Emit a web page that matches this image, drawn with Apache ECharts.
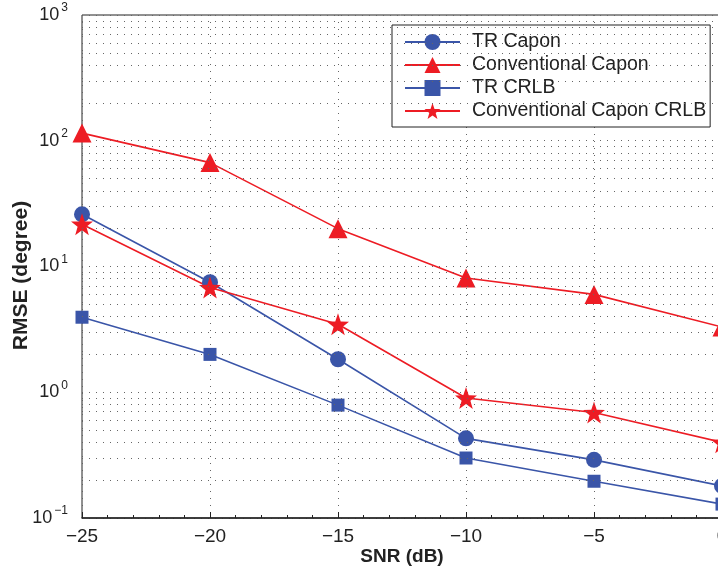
<!DOCTYPE html>
<html><head><meta charset="utf-8">
<script src="https://cdn.jsdelivr.net/npm/echarts@6/dist/echarts.min.js"></script>
<style>html,body{margin:0;padding:0;background:#fff}#c{width:718px;height:577px}</style>
</head><body><div id="c"></div>
<script>
const snr = [-25, -20, -15, -10, -5, 0];
const trCapon = [26, 7.5, 1.83, 0.43, 0.29, 0.18];
const convCapon = [115, 67, 20, 8.1, 6.0, 3.3];
const trCRLB = [3.95, 2.0, 0.79, 0.3, 0.196, 0.129];
const convCRLB = [21.7, 6.8, 3.47, 0.9, 0.69, 0.40];
const minorGridValues = [];
[0.1, 1, 10, 100].forEach(d => { for (let k = 2; k <= 9; k++) minorGridValues.push(+(d * k).toPrecision(3)); });

const BLUE = '#3a55a8', RED = '#ed1c24', FONT = 'Liberation Sans, Arial, Helvetica, sans-serif';
const pair = a => snr.map((x, i) => [x, a[i]]);
const dotted = { color: '#666', width: 1, type: [1, 6] };
const mk = (name, data, color, symbol, size) => ({
  name, type: 'line', data: pair(data), symbol, symbolSize: size,
  lineStyle: { color, width: 1.6 }, itemStyle: { color }, z: 3
});
const chart = echarts.init(document.getElementById('c'));
chart.setOption({
  animation: false,
  textStyle: { fontFamily: FONT },
  grid: { left: 82, top: 15, width: 640, height: 503, show: true, borderColor: '#222', borderWidth: 1, outerBoundsMode: 'none', containLabel: false },
  xAxis: {
    type: 'value', min: -25, max: 0, interval: 5,
    name: 'SNR (dB)', nameLocation: 'middle', nameGap: 29, nameMoveOverlap: false,
    nameTextStyle: { fontSize: 19, fontWeight: 'bold', color: '#222' },
    axisLine: { lineStyle: { color: '#222', width: 1.5 } },
    axisTick: { inside: true, length: 6, lineStyle: { color: '#222' } },
    minorTick: { show: true, splitNumber: 5, length: 3, lineStyle: { color: '#222' } },
    axisLabel: { fontSize: 19, color: '#222', margin: 9, formatter: v => String(v).replace('-', '\u2212') },
    splitLine: { show: true, lineStyle: dotted }
  },
  yAxis: {
    type: 'log', min: 0.1, max: 1000, logBase: 10,
    name: 'RMSE (degree)', nameLocation: 'middle', nameGap: 50, nameMoveOverlap: false,
    nameTextStyle: { fontSize: 21, fontWeight: 'bold', color: '#222', padding: [0, 18, 0, 0] },
    axisLine: { lineStyle: { color: '#222', width: 1.5 } },
    axisTick: { inside: true, length: 6, lineStyle: { color: '#222' } },
    minorTick: { show: true, splitNumber: 9, length: 3, lineStyle: { color: '#222' } },
    axisLabel: {
      margin: 14, color: '#222',
      formatter: v => '{b|10}{s|' + Math.round(Math.log10(v)).toString().replace('-', '\u2212') + '}',
      rich: {
        b: { fontSize: 18, color: '#222', verticalAlign: 'bottom', lineHeight: 18 },
        s: { fontSize: 12, color: '#222', verticalAlign: 'bottom', lineHeight: 12, padding: [0, 0, 10, 2] }
      }
    },
    splitLine: { show: true, lineStyle: dotted }
  },
  legend: {
    data: ['TR Capon', 'Conventional Capon', 'TR CRLB', 'Conventional Capon CRLB'],
    orient: 'vertical', left: 392, top: 25,
    padding: [7, 4, 6, 12], itemWidth: 55, itemHeight: 20, itemGap: 3,
    backgroundColor: '#fff', borderColor: '#222', borderWidth: 1, borderRadius: 0,
    textStyle: { fontSize: 19.5, color: '#222', lineHeight: 20, padding: [0, 0, 0, 7] }
  },
  series: [
    { name: '_grid', type: 'line', data: [], silent: true, z: 1,
      markLine: { silent: true, symbol: 'none', label: { show: false },
        lineStyle: dotted, animation: false,
        data: minorGridValues.map(v => ({ yAxis: v })) } },
    mk('TR Capon', trCapon, BLUE, 'circle', 16),
    mk('Conventional Capon', convCapon, RED, 'triangle', 19),
    mk('TR CRLB', trCRLB, BLUE, 'rect', 13),
    mk('Conventional Capon CRLB', convCRLB, RED, 'path://M0,-10 L2.35,-3.24 L9.51,-3.09 L3.8,1.24 L5.88,8.09 L0,4 L-5.88,8.09 L-3.8,1.24 L-9.51,-3.09 L-2.35,-3.24 Z', 22)
  ]
});
</script></body></html>
